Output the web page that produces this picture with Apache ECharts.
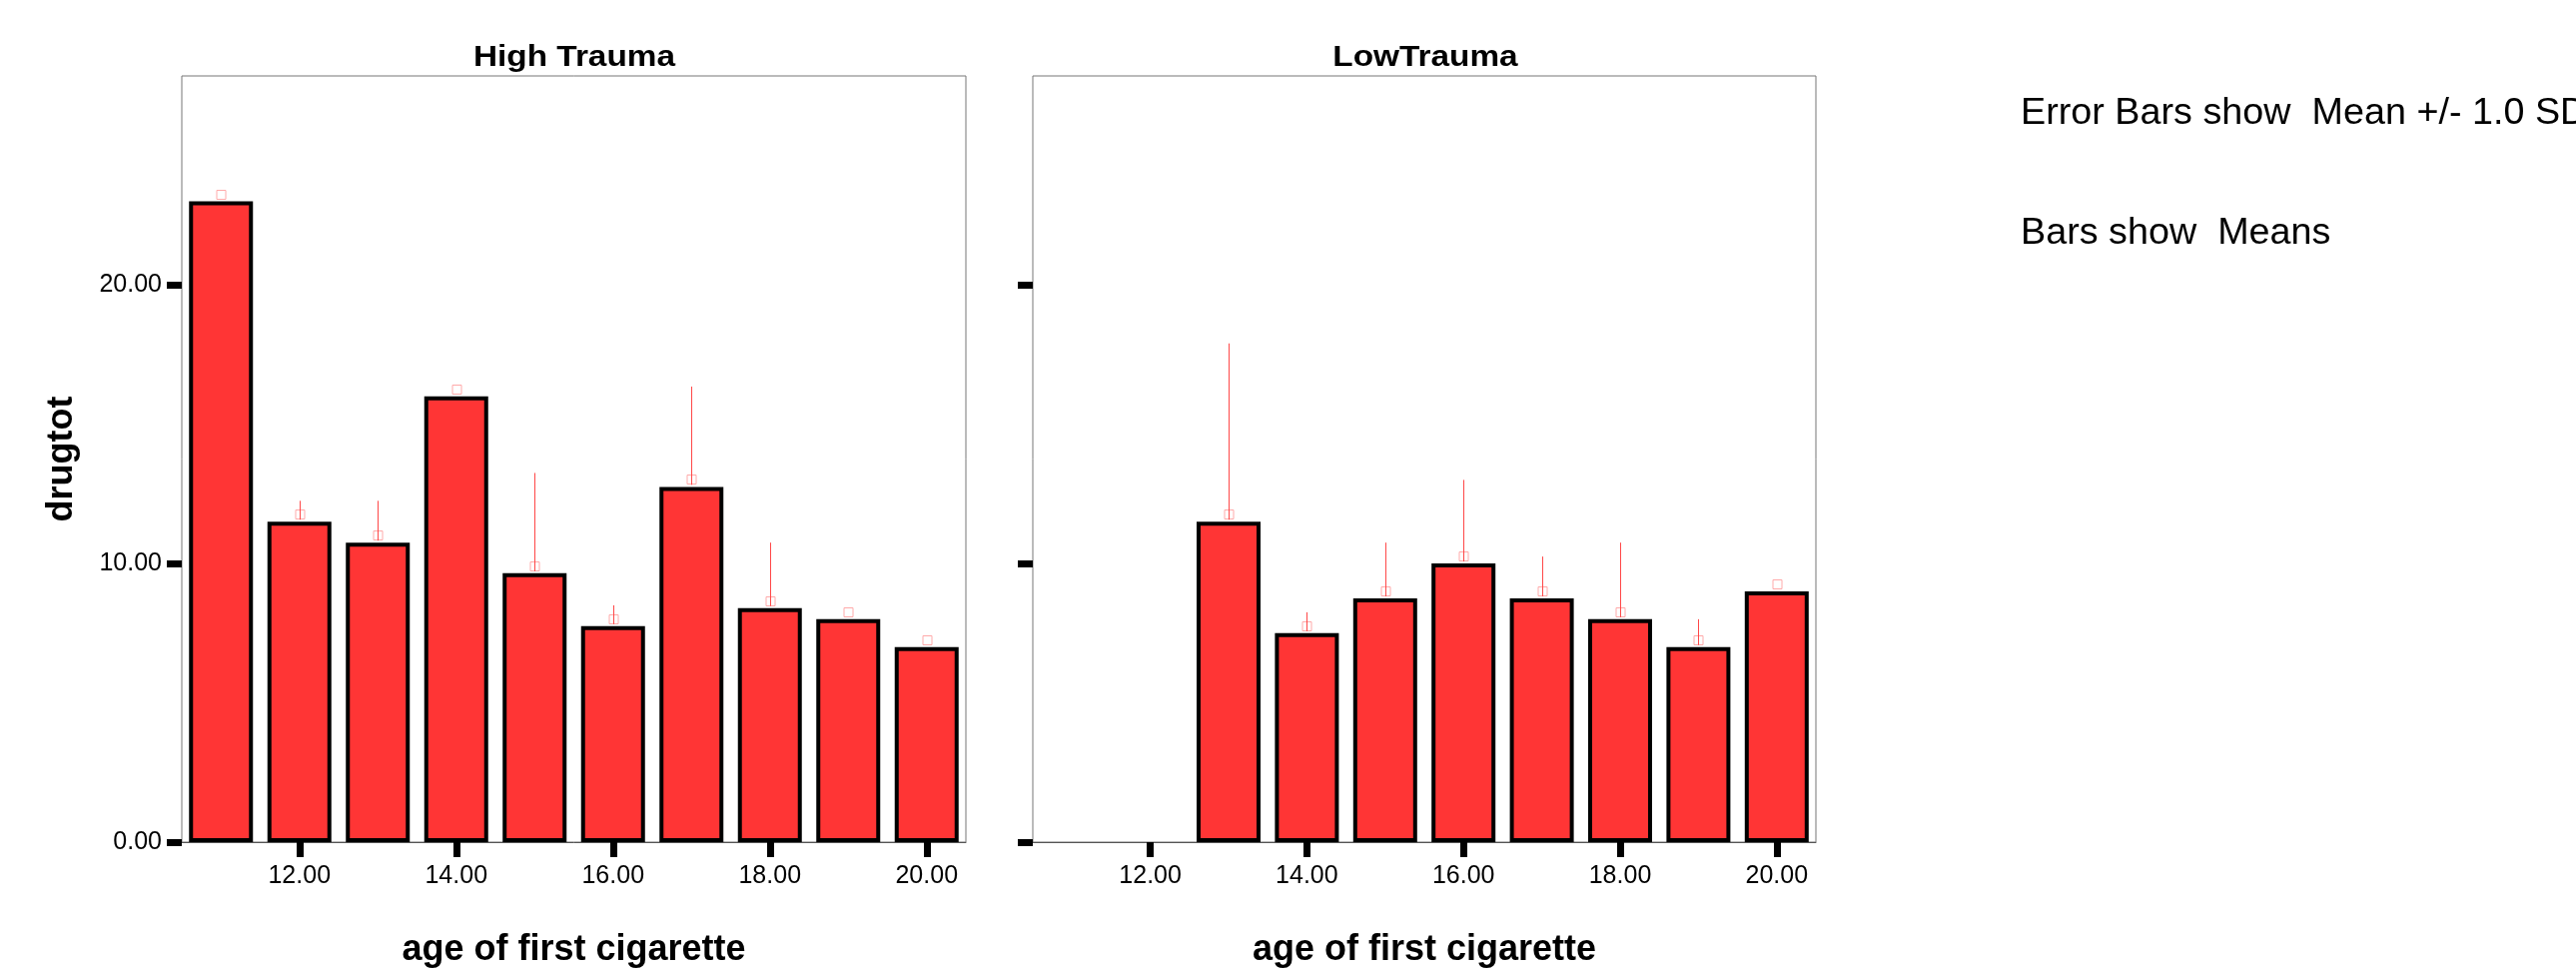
<!DOCTYPE html>
<html>
<head>
<meta charset="utf-8">
<script src="https://cdn.jsdelivr.net/npm/echarts@6/dist/echarts.min.js"></script>
<style>
  html, body { margin: 0; padding: 0; background: #fff; }
  #chart { width: 2579px; height: 974px; }
</style>
</head>
<body>
<div id="chart"></div>
<script>
// age of first cigarette
const categories = ['11.00', '12.00', '13.00', '14.00', '15.00', '16.00', '17.00', '18.00', '19.00', '20.00'];
// mean drugtot per age, High Trauma panel
const highMeans = [23.0, 11.5, 10.75, 16.0, 9.65, 7.75, 12.75, 8.4, 8.0, 7.0];
const highSD = [0, 0.75, 1.5, 0, 3.6, 0.75, 3.6, 2.35, 0, 0];
// mean drugtot per age, LowTrauma panel (no cases at 11 and 12)
const lowMeans = [null, null, 11.5, 7.5, 8.75, 10.0, 8.75, 8.0, 7.0, 9.0];
const lowSD = [null, null, 6.4, 0.75, 2.0, 3.0, 1.5, 2.75, 1.0, 0];
const yTicks = [0, 10, 20];

const FONT = "'Liberation Sans', Arial, sans-serif";
const BAR_COLOR = '#ff3535';

function errData(means, sds) {
  const out = [];
  means.forEach((m, i) => {
    if (m == null) return;
    out.push([i, m, m + sds[i]]);
  });
  return out;
}

// error bar: thin line from the mean up to mean + SD, small hollow marker on top of the bar
function renderErr(params, api) {
  const x = api.value(0);
  const mean = api.value(1);
  const hi = api.value(2);
  const p0 = api.coord([x, mean]);
  const p1 = api.coord([x, hi]);
  const cx = Math.round(p0[0]) + 0.5;
  const children = [{
    type: 'rect',
    shape: { x: cx - 4.5, y: Math.round(p0[1]) - 11.5, width: 9, height: 9 },
    style: { fill: 'none', stroke: '#ffaaaa', lineWidth: 1 }
  }];
  if (hi > mean) {
    children.push({
      type: 'line',
      shape: { x1: cx, y1: p0[1] - 2, x2: cx, y2: p1[1] },
      style: { stroke: '#ff4848', lineWidth: 1 }
    });
  }
  return { type: 'group', children: children };
}

const evenOnly = (idx) => idx % 2 === 1;

function xAxisFor(gridIndex) {
  return {
    type: 'category',
    gridIndex: gridIndex,
    data: categories,
    name: 'age of first cigarette',
    nameLocation: 'middle',
    nameGap: 90,
    nameTextStyle: { fontFamily: FONT, fontSize: 36, fontWeight: 'bold', color: '#000' },
    axisLine: { show: true, lineStyle: { color: '#555', width: 1 } },
    axisTick: { show: true, alignWithLabel: true, interval: evenOnly, length: 15, lineStyle: { color: '#000', width: 7 } },
    axisLabel: { interval: evenOnly, margin: 22, fontFamily: FONT, fontSize: 25, color: '#000' },
    splitLine: { show: false }
  };
}

function yAxisFor(gridIndex, showLabels) {
  return {
    type: 'value',
    gridIndex: gridIndex,
    min: 0,
    max: 27.5,
    name: showLabels ? 'drugtot' : '',
    nameLocation: 'middle',
    nameRotate: 90,
    nameGap: 102,
    nameTextStyle: { fontFamily: FONT, fontSize: 36, fontWeight: 'bold', color: '#000' },
    axisLine: { show: false },
    axisTick: { show: true, customValues: yTicks, length: 15, lineStyle: { color: '#000', width: 7 } },
    axisLabel: {
      show: showLabels,
      customValues: yTicks,
      margin: 20,
      fontFamily: FONT,
      fontSize: 25,
      color: '#000',
      formatter: (v) => v.toFixed(2)
    },
    splitLine: { show: false }
  };
}

function barSeries(idx, means) {
  return {
    type: 'bar',
    xAxisIndex: idx,
    yAxisIndex: idx,
    data: means,
    barWidth: 64,
    itemStyle: { color: BAR_COLOR, borderColor: '#000', borderWidth: 4 },
    silent: true,
    z: 2
  };
}

function errSeries(idx, means, sds) {
  return {
    type: 'custom',
    xAxisIndex: idx,
    yAxisIndex: idx,
    data: errData(means, sds),
    renderItem: renderErr,
    silent: true,
    z: 3
  };
}

const chart = echarts.init(document.getElementById('chart'), null, { renderer: 'canvas' });
chart.setOption({
  animation: false,
  backgroundColor: '#fff',
  grid: [
    { left: 182, top: 76, width: 785, height: 770, show: true, borderColor: '#777', borderWidth: 1, backgroundColor: 'transparent' },
    { left: 1034, top: 76, width: 784, height: 770, show: true, borderColor: '#777', borderWidth: 1, backgroundColor: 'transparent' }
  ],
  xAxis: [xAxisFor(0), xAxisFor(1)],
  yAxis: [yAxisFor(0, true), yAxisFor(1, false)],
  series: [
    barSeries(0, highMeans),
    errSeries(0, highMeans, highSD),
    barSeries(1, lowMeans),
    errSeries(1, lowMeans, lowSD)
  ],
  graphic: [
    { type: 'text', x: 575, y: 58, scaleX: 1.15, style: { text: 'High Trauma', font: "bold 29px 'Liberation Sans', Arial", fill: '#000', textAlign: 'center', textVerticalAlign: 'middle' } },
    { type: 'text', x: 1427, y: 58, scaleX: 1.15, style: { text: 'LowTrauma', font: "bold 29px 'Liberation Sans', Arial", fill: '#000', textAlign: 'center', textVerticalAlign: 'middle' } },
    { type: 'text', x: 2023, y: 114, scaleX: 1.02, style: { text: 'Error Bars show  Mean +/- 1.0 SD', font: "37px 'Liberation Sans', Arial", fill: '#000', textAlign: 'left', textVerticalAlign: 'middle' } },
    { type: 'text', x: 2023, y: 234, scaleX: 1.02, style: { text: 'Bars show  Means', font: "37px 'Liberation Sans', Arial", fill: '#000', textAlign: 'left', textVerticalAlign: 'middle' } }
  ]
});
</script>
</body>
</html>
